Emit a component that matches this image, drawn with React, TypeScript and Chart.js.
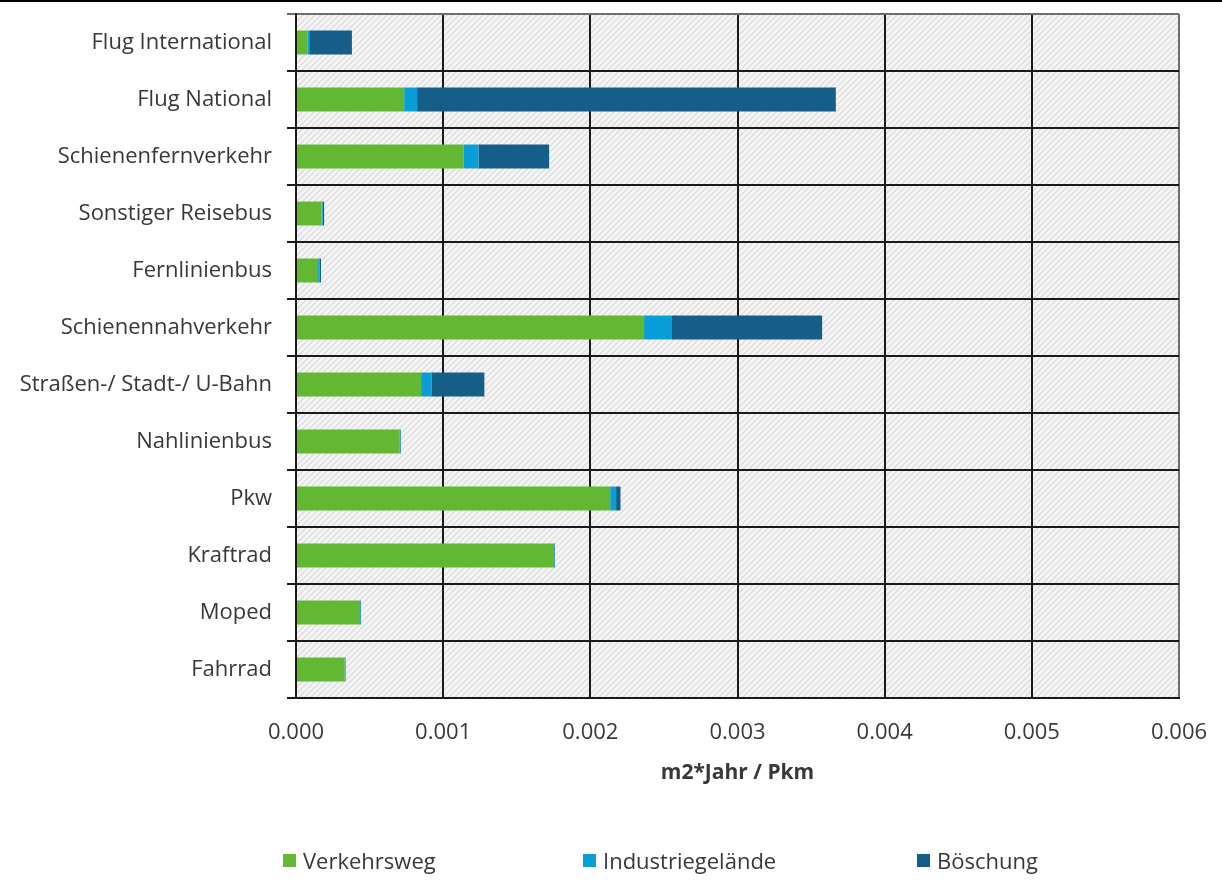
import React, { useEffect, useRef } from "react";
import { Chart, registerables } from "chart.js";

Chart.register(...registerables);

const categories = [
  "Flug International",
  "Flug National",
  "Schienenfernverkehr",
  "Sonstiger Reisebus",
  "Fernlinienbus",
  "Schienennahverkehr",
  "Straßen-/ Stadt-/ U-Bahn",
  "Nahlinienbus",
  "Pkw",
  "Kraftrad",
  "Moped",
  "Fahrrad",
];

const verkehrsweg = [0.00008, 0.000735, 0.00114, 0.000175, 0.00015, 0.002365, 0.00085, 0.000705, 0.002135, 0.001748, 0.000435, 0.00033];
const industriegelaende = [0.00001, 0.000088, 0.0001, 0.000006, 0.00001, 0.00019, 0.00007, 0.000004, 0.00004, 0.000008, 0.000003, 0.000004];
const boeschung = [0.00029, 0.002845, 0.00048, 0.00001, 0.00001, 0.00102, 0.00036, 0.000004, 0.00003, 0.000004, 0.000004, 0.000003];

const seriesNames = ["Verkehrsweg", "Industriegelände", "Böschung"];
const seriesColors = ["#62b832", "#0a9ed8", "#145e88"];

const xTicks = [0, 0.001, 0.002, 0.003, 0.004, 0.005, 0.006];

const FONT = "'Open Sans', sans-serif";
const TEXT = "#383838";

const hatchPlugin = {
  id: "hatchBg",
  beforeDraw(chart: any) {
    const { ctx, chartArea } = chart;
    const tile = document.createElement("canvas");
    tile.width = 6;
    tile.height = 6;
    const t = tile.getContext("2d")!;
    t.fillStyle = "#f5f5f5";
    t.fillRect(0, 0, 6, 6);
    t.strokeStyle = "#dcdcdc";
    t.lineWidth = 1.3;
    t.beginPath();
    t.moveTo(0, 6);
    t.lineTo(6, 0);
    t.moveTo(-1, 1);
    t.lineTo(1, -1);
    t.moveTo(5, 7);
    t.lineTo(7, 5);
    t.stroke();
    const pat = ctx.createPattern(tile, "repeat");
    ctx.save();
    ctx.fillStyle = pat;
    ctx.fillRect(chartArea.left, chartArea.top, chartArea.right - chartArea.left, chartArea.bottom - chartArea.top);
    ctx.restore();
  },
};

export default function App() {
  const ref = useRef<HTMLCanvasElement>(null);
  useEffect(() => {
    const chart = new Chart(ref.current!, {
      type: "bar",
      data: {
        labels: categories,
        datasets: [verkehrsweg, industriegelaende, boeschung].map((d, i) => ({
          label: seriesNames[i],
          data: d,
          backgroundColor: seriesColors[i],
          borderWidth: 0,
          barPercentage: 0.42,
          categoryPercentage: 1,
        })),
      },
      options: {
        indexAxis: "y",
        animation: false,
        responsive: true,
        maintainAspectRatio: false,
        layout: { padding: { top: 14, right: 43, left: 0, bottom: 88 } },
        plugins: {
          legend: { display: false },
          tooltip: { enabled: false },
        },
        scales: {
          x: {
            stacked: true,
            min: 0,
            max: 0.006,
            afterBuildTicks: (scale: any) => {
              scale.ticks = xTicks.map((v) => ({ value: v }));
            },
            afterFit: (scale: any) => {
              scale.height = 100;
              scale.paddingLeft = 0;
              scale.paddingRight = 0;
            },
            ticks: {
              padding: 22,
              color: TEXT,
              font: { family: FONT, size: 22 },
              callback: (v: any) => Number(v).toFixed(3),
              maxRotation: 0,
            },
            grid: {
              drawTicks: false,
              color: (ctx: any) => (ctx.index === xTicks.length - 1 ? "#6e6e6e" : "#1a1a1a"),
              lineWidth: 2,
            },
            border: { display: true, color: "#1a1a1a", width: 2 },
            title: {
              display: true,
              text: "m2*Jahr / Pkm",
              color: TEXT,
              font: { family: FONT, size: 21, weight: "bold" },
              padding: { top: 0, bottom: 12 },
            },
          },
          y: {
            stacked: true,
            afterFit: (scale: any) => {
              scale.width = 296;
              scale.paddingTop = 0;
              scale.paddingBottom = 0;
            },
            ticks: {
              padding: 15,
              color: TEXT,
              font: { family: FONT, size: 22 },
            },
            grid: {
              offset: true,
              drawTicks: true,
              tickLength: 9,
              color: (ctx: any) => (ctx.index === 0 ? "#6e6e6e" : "#1a1a1a"),
              lineWidth: 2,
            },
            border: { display: true, color: "#1a1a1a", width: 2 },
          },
        },
      },
      plugins: [hatchPlugin],
    });
    return () => chart.destroy();
  }, []);

  const legendX = [283, 583, 917];
  return (
    <div style={{ position: "absolute", left: 0, top: 0, width: 1222, height: 886, background: "#fff" }}>
      <div style={{ position: "absolute", left: 0, top: 0, width: 1222, height: 2, background: "#000" }} />
      <canvas ref={ref} style={{ position: "absolute", left: 0, top: 0, width: 1222, height: 886 }} />
      {seriesNames.map((n, i) => (
        <div
          key={n}
          style={{
            position: "absolute",
            left: legendX[i],
            top: 845,
            height: 30,
            display: "flex",
            alignItems: "center",
            fontFamily: FONT,
            fontSize: 22,
            color: TEXT,
            whiteSpace: "nowrap",
          }}
        >
          <span style={{ display: "inline-block", width: 13, height: 13, background: seriesColors[i], marginRight: 7 }} />
          {n}
        </div>
      ))}
    </div>
  );
}
